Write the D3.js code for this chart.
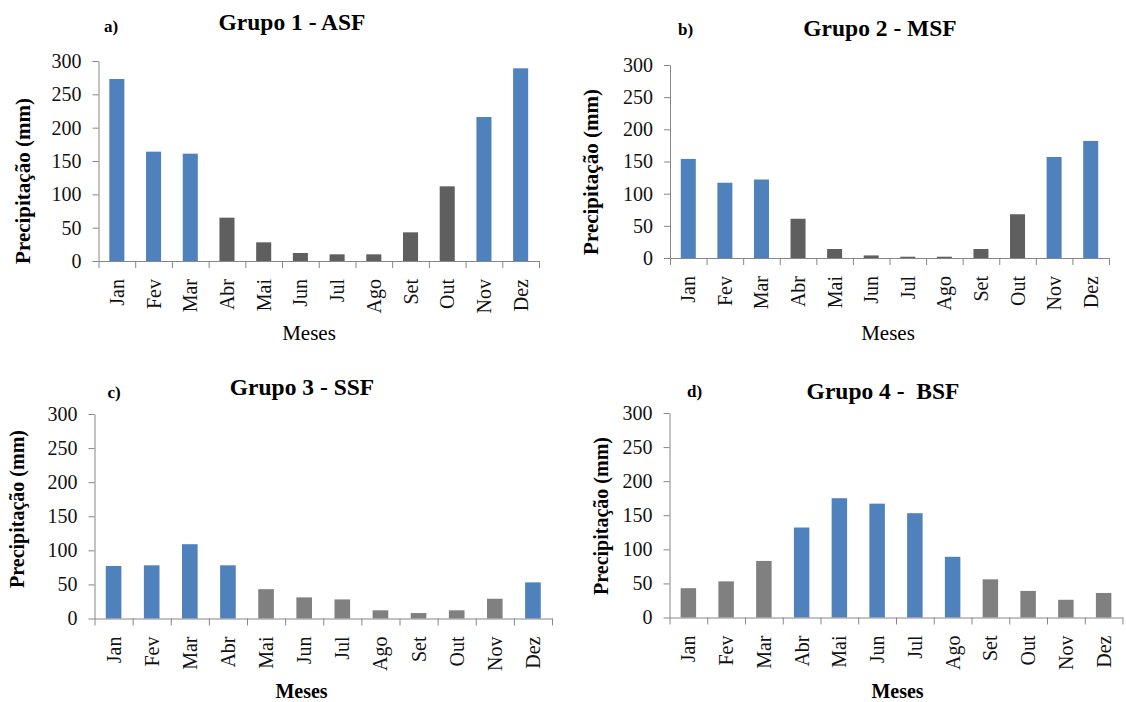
<!DOCTYPE html>
<html lang="pt">
<head>
<meta charset="utf-8">
<title>Precipitação mensal por grupo</title>
<script src="https://cdn.jsdelivr.net/npm/d3@7"></script>
<style>
  html, body { margin: 0; padding: 0; background: #fff; }
  svg, svg text { font-family: "Liberation Serif", "Times New Roman", serif; }
  svg { display: block; }
</style>
</head>
<body>
<svg id="chart" width="1126" height="702"></svg>
<script>
// Meses do ano (eixo x)
const meses = ["Jan", "Fev", "Mar", "Abr", "Mai", "Jun", "Jul", "Ago", "Set", "Out", "Nov", "Dez"];

// Precipitação média mensal (mm) de cada grupo
const grupo1 = [273, 164, 161, 65, 28, 12, 10, 10, 43, 112, 216, 289];
const grupo2 = [154, 117, 122, 61, 14, 4, 2, 2, 14, 68, 157, 182];
const grupo3 = [77, 78, 109, 78, 43, 31, 28, 12, 8, 12, 29, 53];
const grupo4 = [43, 53, 83, 132, 175, 167, 153, 89, 56, 39, 26, 36];

// Meses do período chuvoso (1) e seco (0) de cada grupo
const chuvoso1 = [1, 1, 1, 0, 0, 0, 0, 0, 0, 0, 1, 1];
const chuvoso2 = [1, 1, 1, 0, 0, 0, 0, 0, 0, 0, 1, 1];
const chuvoso3 = [1, 1, 1, 1, 0, 0, 0, 0, 0, 0, 0, 1];
const chuvoso4 = [0, 0, 0, 1, 1, 1, 1, 1, 0, 0, 0, 0];

// Títulos e rótulos dos painéis
const titulos = ["Grupo 1 - ASF", "Grupo 2 - MSF", "Grupo 3 - SSF", "Grupo 4 -  BSF"];
const letras = ["a)", "b)", "c)", "d)"];
const yTicks = [0, 50, 100, 150, 200, 250, 300];
const yMax = 300;

// Posição e estilo de cada painel
const paineis = [
  { valores: grupo1, chuvoso: chuvoso1, left: 98.5, right: 539, top: 61, bottom: 261,
    tituloX: 292, tituloY: 30, letraX: 104, letraY: 32, yLabX: 23, yLabY: 181, yLabSize: 21,
    mesesX: 309, mesesY: 340, mesesBold: false, seco: "#5f5f5f" },
  { valores: grupo2, chuvoso: chuvoso2, left: 670, right: 1109, top: 65, bottom: 258,
    tituloX: 880, tituloY: 36, letraX: 678, letraY: 35, yLabX: 591, yLabY: 172, yLabSize: 21,
    mesesX: 888, mesesY: 340, mesesBold: false, seco: "#5f5f5f" },
  { valores: grupo3, chuvoso: chuvoso3, left: 94.5, right: 552, top: 414, bottom: 618.5,
    tituloX: 302, tituloY: 395, letraX: 107.5, letraY: 398, yLabX: 16.5, yLabY: 509, yLabSize: 20,
    mesesX: 301.5, mesesY: 698, mesesBold: true, seco: "#808080" },
  { valores: grupo4, chuvoso: chuvoso4, left: 669.5, right: 1122.5, top: 413, bottom: 617.5,
    tituloX: 883, tituloY: 399, letraX: 687, letraY: 397, yLabX: 601, yLabY: 516, yLabSize: 20,
    mesesX: 897.5, mesesY: 698, mesesBold: true, seco: "#808080" }
];

const azul = "#4f81bd";
const corEixo = "#868686";
const fonte = "'Liberation Serif', 'Times New Roman', serif";
const svg = d3.select("#chart");

paineis.forEach((p, i) => {
  const g = svg.append("g");

  const x = d3.scaleBand().domain(meses).range([p.left, p.right])
    .paddingInner(0.59).paddingOuter(0.295);
  const xDiv = d3.scaleLinear().domain([0, meses.length]).range([p.left, p.right]);
  const y = d3.scaleLinear().domain([0, yMax]).range([p.bottom, p.top]);

  // Barras
  g.append("g").selectAll("rect")
    .data(meses.map((m, k) => ({ mes: m, valor: p.valores[k], chuvoso: p.chuvoso[k] })))
    .join("rect")
    .attr("x", d => x(d.mes))
    .attr("width", x.bandwidth())
    .attr("y", d => y(d.valor))
    .attr("height", d => y(0) - y(d.valor))
    .attr("fill", d => d.chuvoso ? azul : p.seco);

  // Eixo y
  const eixoY = g.append("g")
    .attr("transform", `translate(${p.left},0)`)
    .call(d3.axisLeft(y).tickValues(yTicks).tickSize(6).tickPadding(11).tickSizeOuter(0));
  eixoY.attr("font-family", null).style("font-family", fonte);
  eixoY.selectAll("path, line").attr("stroke", corEixo);
  eixoY.selectAll("text").attr("font-size", 20).attr("fill", "#111")
    .style("font-family", fonte);

  // Eixo x: divisões entre meses
  const eixoX = g.append("g")
    .attr("transform", `translate(0,${p.bottom})`)
    .call(d3.axisBottom(xDiv).tickValues(d3.range(0, meses.length + 1))
      .tickSize(7).tickSizeOuter(0).tickFormat(""));
  eixoX.selectAll("path, line").attr("stroke", corEixo);

  // Rótulos dos meses (verticais)
  const rotX = g.append("g")
    .attr("transform", `translate(0,${p.bottom})`)
    .call(d3.axisBottom(x).tickSize(0).tickPadding(0));
  rotX.attr("font-family", null).style("font-family", fonte);
  rotX.select(".domain").remove();
  rotX.selectAll("text")
    .attr("font-size", 20)
    .attr("fill", "#111")
    .style("font-family", fonte)
    .attr("text-anchor", "end")
    .attr("transform", "rotate(-90)")
    .attr("x", -18)
    .attr("y", 0)
    .attr("dy", "0.35em");

  // Título
  g.append("text")
    .attr("x", p.tituloX).attr("y", p.tituloY)
    .attr("text-anchor", "middle")
    .attr("font-size", 23.5).attr("font-weight", "bold")
    .style("font-family", fonte)
    .style("white-space", "pre")
    .text(titulos[i]);

  // Letra do painel
  g.append("text")
    .attr("x", p.letraX).attr("y", p.letraY)
    .attr("font-size", 17).attr("font-weight", "bold")
    .style("font-family", fonte)
    .text(letras[i]);

  // Título do eixo y
  g.append("text")
    .attr("transform", `translate(${p.yLabX},${p.yLabY}) rotate(-90)`)
    .attr("text-anchor", "middle")
    .attr("dy", "0.35em")
    .attr("font-size", p.yLabSize).attr("font-weight", "bold")
    .style("font-family", fonte)
    .text("Precipitação (mm)");

  // Título do eixo x
  g.append("text")
    .attr("x", p.mesesX).attr("y", p.mesesY)
    .attr("text-anchor", "middle")
    .attr("font-size", p.mesesBold ? 20 : 21)
    .attr("font-weight", p.mesesBold ? "bold" : "normal")
    .style("font-family", fonte)
    .text("Meses");
});
</script>
</body>
</html>
